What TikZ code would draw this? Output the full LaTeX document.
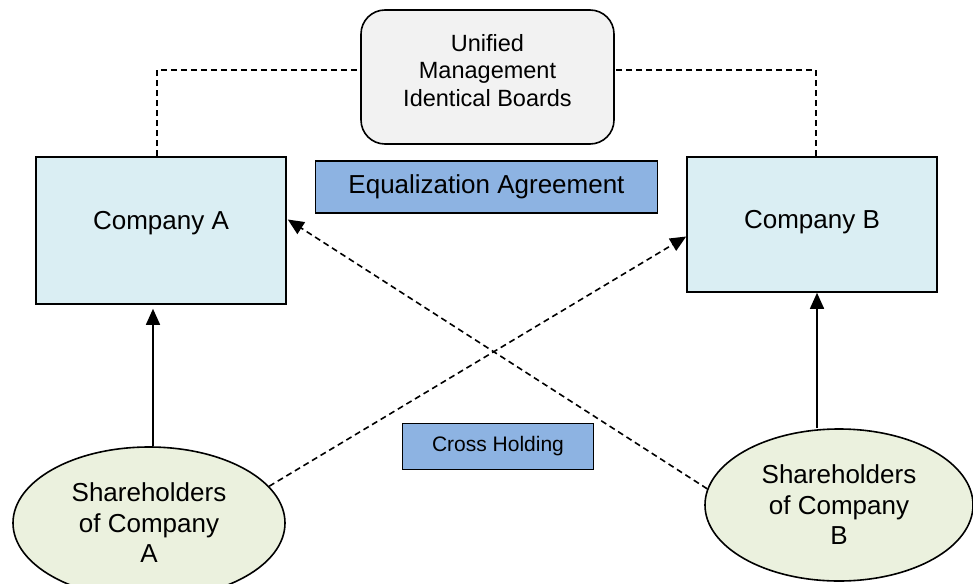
\documentclass[tikz,border=0pt]{standalone}
\usepackage{fontspec}
\setmainfont{Liberation Sans}
\usetikzlibrary{arrows.meta,shapes.geometric}

\definecolor{compfill}{HTML}{DAEEF3}
\definecolor{boardfill}{HTML}{F2F2F2}
\definecolor{tagfill}{HTML}{8DB3E2}
\definecolor{sharefill}{HTML}{EBF1DE}

\tikzset{
  company/.style={rectangle, draw, line width=1.6pt, fill=compfill, minimum width=250pt, font=\fontsize{26}{30}\selectfont},
  board/.style={rectangle, rounded corners=24pt, draw, line width=1.6pt, fill=boardfill, minimum width=253pt, minimum height=134pt, align=center, text depth=14pt, font=\fontsize{23.5}{27.5}\selectfont},
  tag/.style={rectangle, draw, line width=1.6pt, fill=tagfill},
  holders/.style={ellipse, draw, line width=1.6pt, fill=sharefill, minimum height=152pt, align=center, inner sep=0pt, font=\fontsize{26}{30.5}\selectfont},
  own/.style={line width=1.6pt, -{Triangle[length=16pt,width=14pt]}},
  cross/.style={own, dash pattern=on 6pt off 4pt},
  link/.style={line width=1.6pt, dash pattern=on 6pt off 4pt}
}

\begin{document}
\begin{tikzpicture}[x=1pt,y=-1pt]
  \useasboundingbox (0,0) rectangle (973,583);

  \node[board] (board) at (487.5,77) {Unified\\Management\\Identical Boards};
  \node[company, minimum height=147pt, text depth=21pt] (compA) at (161,230.5) {Company A};
  \node[company, minimum height=135pt, text depth=11pt] (compB) at (812,224.5) {Company B};
  \node[tag, minimum width=342pt, minimum height=52pt, font=\fontsize{26}{30}\selectfont] (equal) at (486.5,187) {Equalization Agreement};
  \node[tag, minimum width=191pt, minimum height=46pt, font=\fontsize{21}{25}\selectfont] (crossing) at (498,446.5) {Cross Holding};
  \node[holders, minimum width=272pt] (shA) at (149,523) {Shareholders\\of Company\\A};
  \node[holders, minimum width=268pt] (shB) at (839,505) {Shareholders\\of Company\\B};

  % common board over both companies
  \draw[link] ([xshift=-4pt]compA.north) |- ([yshift=7pt]board.west);
  \draw[link] ([xshift=4pt]compB.north) |- ([yshift=7pt]board.east);

  % each company owned by its own shareholders
  \draw[own] ([xshift=4pt]shA.north) -- ([xshift=-8pt,yshift=-4pt]compA.south);
  \draw[own] ([xshift=-22pt]shB.north) -- ([xshift=5pt]compB.south);

  % cross holdings
  \draw[cross] (shA.17) -- ([yshift=-12pt]compB.west);
  \draw[cross] (shB.173) -- ([xshift=1pt,yshift=11pt]compA.east);
\end{tikzpicture}
\end{document}
